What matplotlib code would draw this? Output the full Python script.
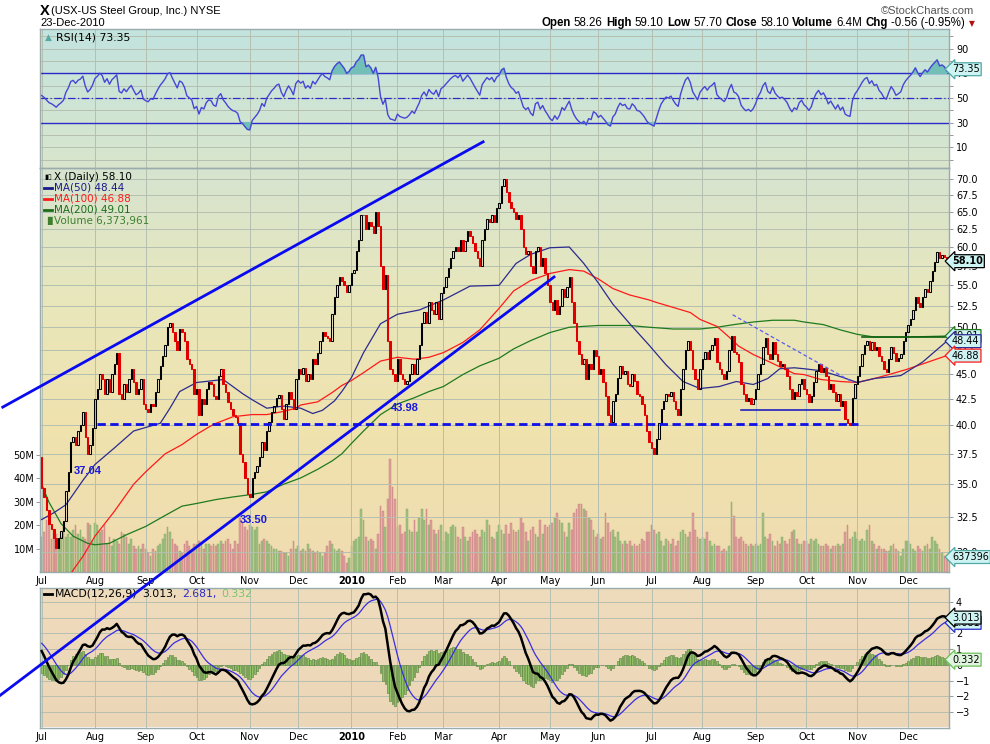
import numpy as np
import pandas as pd
import matplotlib
matplotlib.use('Agg')
import matplotlib.pyplot as plt
from matplotlib.lines import Line2D
from matplotlib.colors import to_rgb
from matplotlib.transforms import blended_transform_factory

plt.rcParams['font.family'] = ['DejaVu Sans']

W, H = 990, 744

# ---------------- data ----------------
holidays = ['2009-07-03', '2009-09-07', '2009-11-26', '2009-12-25', '2010-01-01', '2010-01-18',
            '2010-02-15', '2010-04-02', '2010-05-31', '2010-07-05', '2010-09-06', '2010-11-25']

first_open = 37.2
closes_2009 = [
    34.7, 34.0, 33.0, 32.0, 31.6, 31.0, 30.3, 31.0, 31.5, 32.2, 34.5, 36.0, 38.5, 39.0, 38.3, 39.5, 40.0, 41.2, 39.0, 37.5, 38.3, 39.8,
    42.5, 43.5, 45.0, 44.5, 43.0, 44.5, 43.2, 45.0, 46.0, 47.2, 43.0, 42.5, 44.0, 43.2, 44.5, 45.5, 44.2, 43.0, 43.5, 44.5, 42.0,
    41.5, 41.2, 42.0, 41.8, 43.2, 44.5, 45.8, 46.8, 48.0, 50.0, 50.5, 49.5, 48.5, 47.5, 49.8, 49.5, 48.5, 46.5, 46.0, 45.5, 43.0,
    43.5, 41.0, 42.5, 42.0, 43.5, 44.2, 44.0, 42.8, 42.5, 44.8, 45.5, 44.0, 43.2, 42.2, 41.5, 41.0, 40.8, 40.2, 37.5, 36.8, 35.5, 34.2,
    34.0, 35.5, 36.0, 36.5, 37.2, 38.5, 37.8, 39.5, 40.3, 41.2, 41.8, 42.6, 42.9, 41.5, 40.6, 42.0, 43.2, 42.5, 41.5, 44.5,
    45.5, 45.0, 45.6, 44.3, 45.0, 44.5, 46.5, 46.0, 47.2, 48.5, 49.5, 49.0, 48.8, 48.5, 51.5, 53.5, 55.0, 56.0, 55.5, 55.0, 54.2, 55.0,
]
closes_2010 = [
    56.5, 57.0, 59.5, 61.0, 64.5, 64.5, 62.5, 63.5, 63.0, 62.0, 65.0, 63.0, 57.5, 54.5, 56.3, 48.5, 45.5, 45.0, 44.3,
    46.5, 45.0, 44.5, 44.0, 44.3, 45.0, 46.0, 45.0, 46.5, 48.0, 50.5, 51.8, 50.5, 53.0, 52.0, 51.5, 53.0, 51.0, 54.0,
    54.8, 56.0, 57.2, 58.5, 59.5, 60.0, 59.5, 61.0, 59.5, 60.8, 62.2, 61.5, 60.5, 59.5, 58.5, 57.5, 61.0, 62.5, 64.0, 63.5, 64.5, 63.5, 65.5,
    66.3, 69.0, 70.0, 68.0, 66.5, 65.5, 65.0, 64.0, 64.5, 62.5, 60.0, 59.0, 59.5, 57.5, 56.5, 59.5, 60.0, 57.5, 58.5, 56.5, 55.0,
    53.0, 52.0, 53.2, 51.5, 52.5, 54.5, 53.5, 54.8, 56.0, 53.0, 50.5, 48.5, 47.0, 46.0, 46.5, 44.5, 46.0, 45.5, 47.5, 46.8,
    45.0, 45.5, 44.2, 42.8, 41.0, 40.3, 42.3, 43.0, 44.6, 45.8, 45.0, 45.3, 44.0, 43.8, 45.0, 44.3, 43.0, 42.8, 42.0, 41.0, 39.5, 38.5,
    38.0, 37.5, 38.8, 40.2, 41.5, 42.3, 43.0, 42.8, 43.2, 42.3, 41.5, 41.0, 43.5, 45.5, 47.5, 48.5, 47.5, 45.5, 44.5, 43.5, 45.5,
    46.5, 47.3, 46.5, 47.5, 48.0, 48.8, 46.2, 45.5, 45.0, 44.5, 45.3, 47.5, 49.0, 47.3, 47.0, 46.2, 44.0, 43.0, 42.3, 42.6, 42.0, 42.5,
    43.5, 45.0, 46.0, 47.8, 48.8, 47.0, 46.5, 48.3, 47.0, 46.3, 45.8, 46.0, 45.5, 44.8, 43.5, 42.5, 43.2, 42.8, 44.0, 44.5, 43.5,
    43.0, 42.2, 42.8, 44.2, 45.3, 46.0, 45.2, 45.6, 44.8, 43.5, 44.0, 43.2, 42.3, 43.0, 41.8, 42.3, 40.6, 40.2, 40.0, 42.6, 44.0,
    44.8, 45.8, 47.0, 48.0, 48.5, 47.5, 48.3, 47.5, 47.8, 46.8, 46.3, 45.5, 45.2, 46.5, 47.8, 47.2, 46.3, 46.6, 47.0, 48.5, 49.5,
    50.3, 51.0, 52.0, 53.5, 52.8, 52.3, 53.5, 54.5, 54.2, 55.5, 56.8, 58.0, 59.3, 58.5, 58.9, 58.66, 58.10,
]

# volume, millions of shares
volume_2009 = [
    15, 17, 22, 20, 14, 18, 16, 13, 15, 19, 15, 16, 15, 18, 20, 16, 18, 15, 14, 21, 20, 13,
    21, 20, 17, 18, 20, 12, 15, 11, 14, 13, 12, 17, 16, 15, 12, 14, 11, 10, 11, 10, 12,
    10, 8, 7, 10, 9, 11, 12, 14, 16, 19, 17, 14, 12, 11, 9, 8, 12, 13, 11, 10, 12,
    12, 13, 12, 10, 12, 12, 11, 12, 11, 12, 13, 12, 13, 14, 12, 10, 13, 12, 23, 21, 19, 18,
    20, 19, 18, 19, 12, 13, 14, 13, 12, 11, 10, 10, 9, 9, 8, 8, 7, 10, 13, 10,
    11, 9, 10, 9, 12, 10, 9, 8, 9, 8, 7, 8, 11, 13, 12, 10, 9, 10, 9, 7, 4, 6,
]
volume_2010 = [
    11, 13, 14, 15, 27, 22, 15, 13, 14, 13, 10, 16, 28, 26, 19, 31, 48, 36, 31,
    19, 20, 16, 17, 27, 18, 17, 22, 17, 23, 27, 22, 27, 20, 22, 18, 16, 18, 20,
    13, 17, 16, 19, 20, 19, 15, 14, 19, 15, 13, 15, 17, 18, 16, 15, 18, 17, 22, 20, 15, 14, 17,
    20, 18, 16, 20, 16, 21, 18, 17, 18, 23, 21, 17, 13, 18, 19, 16, 15, 22, 16, 20, 19,
    20, 21, 23, 25, 22, 21, 17, 15, 21, 18, 25, 27, 29, 29, 27, 26, 23, 22, 18, 15,
    16, 14, 15, 25, 21, 17, 18, 15, 17, 13, 12, 13, 12, 13, 11, 12, 11, 12, 14, 13, 17, 17,
    20, 18, 16, 17, 13, 11, 14, 13, 12, 14, 11, 13, 17, 18, 16, 15, 17, 25, 18, 15, 14,
    15, 14, 17, 13, 11, 12, 11, 11, 9, 10, 9, 11, 30, 24, 15, 14, 15, 13, 12, 11, 12, 11,
    12, 11, 12, 25, 15, 14, 16, 13, 11, 13, 12, 15, 13, 12, 14, 17, 18, 14, 12, 12, 13,
    13, 12, 14, 13, 14, 12, 11, 11, 12, 11, 10, 11, 11, 12, 11, 12, 17, 20, 14, 15, 17,
    14, 13, 14, 13, 18, 20, 13, 12, 10, 11, 10, 10, 9, 9, 11, 12, 10, 9, 7, 10, 13,
    13, 12, 10, 9, 11, 10, 9, 11, 12, 10, 15, 13, 12, 10, 8, 7, 6.37,
]

# moving averages read at sample days (trading-day number from 1 Jul 2009)
ma50_day = [0, 5, 10, 17, 22, 30, 38, 49, 53, 57, 64, 75, 83, 87, 93, 100, 107, 112, 116, 121, 124, 128, 133, 140,
            147, 156, 166, 177, 189, 196, 202, 210, 218, 224, 230, 236, 243, 251, 258, 265, 272, 280, 287, 294,
            300, 305, 311, 315, 322, 330, 337, 344, 355, 364, 374]
ma50_val = [32.3, 32.8, 33.4, 35.3, 36.6, 38.0, 39.5, 40.2, 41.6, 43.2, 44.1, 44.4, 43.0, 42.4, 41.6, 41.8, 41.6, 41.1,
            41.4, 42.3, 43.2, 44.6, 47.2, 50.4, 51.5, 52.0, 53.2, 54.9, 55.0, 57.8, 59.0, 59.9, 60.0, 57.8, 55.3, 52.7,
            50.4, 48.0, 45.9, 44.2, 43.5, 43.7, 44.2, 43.9, 44.5, 45.5, 45.6, 45.5, 45.3, 44.7, 44.1, 44.5, 44.8, 46.2, 48.44]
ma100_day = [0, 6, 13, 17, 22, 30, 38, 43, 51, 58, 64, 71, 79, 87, 93, 100, 105, 107, 114, 120, 124, 128, 133, 140,
             147, 154, 160, 166, 174, 181, 189, 195, 202, 210, 218, 224, 230, 236, 243, 251, 254, 261, 268, 272,
             279, 284, 288, 294, 300, 305, 311, 315, 322, 330, 337, 344, 350, 357, 364, 374]
ma100_val = [25.6, 27.0, 28.8, 29.7, 31.1, 32.9, 35.0, 36.0, 37.5, 38.3, 39.2, 40.1, 40.8, 41.0, 41.0, 41.3, 41.6, 41.9,
             42.2, 43.1, 43.8, 44.3, 45.1, 46.3, 46.7, 46.5, 46.7, 47.2, 48.3, 49.7, 52.2, 54.3, 55.6, 56.5, 57.0, 56.8,
             55.8, 54.6, 53.8, 53.2, 52.9, 52.3, 51.7, 50.9, 50.1, 48.9, 47.9, 47.0, 46.3, 45.7, 45.0, 44.9, 44.4, 44.2,
             44.1, 44.5, 44.9, 45.4, 46.0, 46.88]
ma200_day = [0, 3, 8, 13, 19, 22, 28, 35, 43, 51, 58, 64, 72, 79, 87, 93, 100, 107, 114, 120, 124, 128, 133, 140,
             147, 154, 160, 166, 174, 181, 189, 195, 202, 210, 218, 224, 230, 243, 251, 261, 272, 279, 286, 294,
             302, 311, 315, 323, 330, 337, 344, 357, 374]
ma200_val = [35.0, 33.6, 32.0, 31.1, 30.6, 30.5, 30.6, 31.2, 31.8, 32.6, 33.3, 33.5, 33.8, 34.0, 34.2, 34.4, 35.0, 35.5,
             36.2, 36.9, 37.5, 38.4, 39.5, 41.0, 42.0, 42.6, 43.2, 43.7, 44.9, 45.8, 46.6, 47.6, 48.5, 49.4, 50.0, 50.1,
             50.2, 50.2, 50.0, 49.8, 49.8, 50.0, 50.3, 50.6, 50.8, 50.8, 50.6, 50.3, 49.7, 49.2, 48.9, 48.9, 49.01]

# indicator state just before the first day (estimated from the chart's left edge)
rsi_seed_gain, rsi_seed_loss = 1.02, 0.75
ema12_seed, ema26_seed, signal_seed = 37.6, 36.4, 1.5

# hand-drawn annotations: (day, price) end points
upper_trend = [(-16.1, 41.7), (182.4, 76.2)]
lower_trend = [(-17.2, 21.66), (211.7, 56.05)]
support_dashed = [(22.7, 40.1), (337.5, 40.1)]
falling_dashed = [(285.5, 51.44), (335.4, 44.09)]
box_low = [(288.8, 41.4), (329.9, 41.4)]
box_high = [(338.8, 48.93), (373.3, 48.93)]
low_labels = [('37.04', 19.1, 36.1), ('33.50', 87.5, 32.3), ('43.98', 150.1, 41.6)]

last = dict(rsi=73.35, close=58.10, ma50=48.44, ma100=46.88, ma200=49.01, vol=6.373961,
            macd=3.013, signal=2.681, hist=0.332)

# ---------------- derived series ----------------
days = pd.bdate_range('2009-07-01', '2010-12-23')
days = days[~days.isin(pd.to_datetime(holidays))]
closes = np.array(closes_2009 + closes_2010)
volume = np.array(volume_2009 + volume_2010, dtype=float)
assert len(days) == len(closes) == len(volume)
n = len(closes)
x = np.arange(n)
opens = np.r_[first_open, closes[:-1]]
up = closes >= opens

# RSI(14), Wilder smoothing
g_avg, l_avg = rsi_seed_gain, rsi_seed_loss
rsi = np.empty(n)
for k in range(n):
    d = closes[k] - opens[k]
    g_avg = (g_avg * 13 + max(d, 0)) / 14
    l_avg = (l_avg * 13 + max(-d, 0)) / 14
    rsi[k] = 100 - 100 / (1 + g_avg / l_avg)

# MACD(12,26,9)
e12, e26, sig = ema12_seed, ema26_seed, signal_seed
macd = np.empty(n)
signal = np.empty(n)
for k in range(n):
    e12 += (closes[k] - e12) * 2 / 13
    e26 += (closes[k] - e26) * 2 / 27
    macd[k] = e12 - e26
    sig += (macd[k] - sig) * 2 / 10
    signal[k] = sig
hist = macd - signal

month_idx = [0] + [k for k in range(1, n) if days[k].month != days[k - 1].month]
month_lab = ['2010' if days[k].month == 1 else days[k].strftime('%b') for k in month_idx]

# ---------------- figure ----------------
fig = plt.figure(figsize=(W / 100, H / 100), dpi=100)
fig.patch.set_facecolor('white')


def rect(top, bottom, left=40, right=949):
    return [left / W, 1 - bottom / H, (right - left) / W, (bottom - top) / H]


def gradient(ax, stops):
    cols = np.array([to_rgb(c) for c in stops])
    t = np.linspace(0, 1, 200)
    src = np.linspace(0, 1, len(stops))
    img = np.stack([np.interp(t, src, cols[:, j]) for j in range(3)], axis=1)[:, None, :]
    ax.imshow(img, extent=[0, 1, 0, 1], transform=ax.transAxes, aspect='auto', zorder=-10,
              interpolation='bilinear')


grid_kw = dict(color='#b5bfb0', lw=0.7, zorder=0)
spine_col = '#9aabab'
XLIM = (-0.7, 374.9)


def style(ax):
    ax.set_xlim(*XLIM)
    for s in ax.spines.values():
        s.set_color(spine_col)
        s.set_linewidth(1.0)
    for m in month_idx:
        ax.axvline(m, **grid_kw)
    ax.tick_params(axis='x', length=0, labelsize=7, pad=3)
    ax.tick_params(axis='y', which='both', right=True, left=False, labelright=True, labelleft=False,
                   labelsize=7, length=3, width=0.6, color='#888888', pad=2)


def set_month_ticks(ax):
    ax.set_xticks(month_idx)
    ax.set_xticklabels(month_lab)
    for t in ax.get_xticklabels():
        if t.get_text() == '2010':
            t.set_fontweight('bold')


def tag(ax, yval, text, edge, transform=None, bold=False, face='#cdf3f3'):
    tr = transform if transform is not None else blended_transform_factory(ax.transAxes, ax.transData)
    ax.text(1.0 + 3 / 909, yval, text, transform=tr, ha='left', va='center', fontsize=7,
            fontweight='bold' if bold else 'normal', zorder=20, clip_on=False,
            bbox=dict(boxstyle='larrow,pad=0.15', fc=face, ec=edge, lw=0.9))


# ---- RSI panel ----
ax_r = fig.add_axes(rect(29, 168))
gradient(ax_r, ['#c2e3df', '#d9e6cc'])
style(ax_r)
ax_r.set_ylim(-6.8, 106)
ax_r.set_xticks([])
ax_r.set_yticks([10, 30, 50, 70, 90])
ax_r.set_yticks([0, 20, 40, 60, 80, 100], minor=True)
for v in range(0, 101, 10):
    ax_r.axhline(v, **grid_kw)
ax_r.axhline(70, color='#2a2ac8', lw=1.0, zorder=2)
ax_r.axhline(30, color='#2a2ac8', lw=1.0, zorder=2)
ax_r.axhline(50, color='#2a2ac8', lw=0.9, ls=(0, (6, 2, 1, 2)), zorder=2)
ax_r.fill_between(x, rsi, 70, where=rsi > 70, interpolate=True, color='#72bfb8', zorder=2)
ax_r.fill_between(x, rsi, 30, where=rsi < 30, interpolate=True, color='#72bfb8', zorder=2)
ax_r.plot(x, rsi, color='#4646d6', lw=1.0, zorder=3)
tag(ax_r, last['rsi'], '%.2f' % last['rsi'], '#4fa9a5')
ax_r.text(0.005, 0.94, '\u25b2', transform=ax_r.transAxes, color='#5aa9a5', fontsize=6.5, va='center')
ax_r.text(16 / 909, 0.94, 'RSI(14) %.2f' % last['rsi'], transform=ax_r.transAxes, fontsize=7.8,
          va='center', ha='left')

# ---- price panel with volume underneath ----
ax_p = fig.add_axes(rect(168, 572))
ax_v = ax_p.twinx()
ax_v.set_zorder(ax_p.get_zorder() - 1)
ax_p.patch.set_visible(False)
gradient(ax_v, ['#d6e4d0', '#e9e7bb', '#f0e2ad', '#efdcb2'])

ax_p.set_yscale('log')
ax_p.set_ylim(28.67, 71.8)
style(ax_p)
price_ticks = np.arange(30, 70.01, 2.5)
ax_p.yaxis.set_major_locator(plt.FixedLocator(price_ticks))
ax_p.yaxis.set_minor_locator(plt.NullLocator())
ax_p.yaxis.set_major_formatter(plt.FuncFormatter(lambda v, p: '%.1f' % v))
for v in price_ticks:
    ax_p.axhline(v, **grid_kw)
set_month_ticks(ax_p)

ax_v.set_xlim(*XLIM)
ax_v.set_ylim(0, 172)
ax_v.yaxis.tick_left()
ax_v.set_yticks([10, 20, 30, 40, 50])
ax_v.set_yticklabels(['10M', '20M', '30M', '40M', '50M'])
ax_v.tick_params(axis='y', labelsize=7, length=3, width=0.6, color='#888888', pad=1)
for s in ax_v.spines.values():
    s.set_visible(False)
vol_face = np.where(up, '#a3c285', '#dca09e')
vol_edge = np.where(up, '#7fa463', '#c97a78')
ax_v.bar(x, volume, width=0.72, color=vol_face, edgecolor=vol_edge, linewidth=0.3, zorder=1)

# moving averages
ax_p.plot(ma200_day, ma200_val, color='#1f7a1f', lw=0.9, zorder=3)
ax_p.plot(ma100_day, ma100_val, color='#ff1a1a', lw=0.9, zorder=3)
ax_p.plot(ma50_day, ma50_val, color='#2b2b8f', lw=0.9, zorder=3)

# candles
body_lo = np.minimum(opens, closes)
body_h = np.maximum(np.abs(closes - opens), 0.08)
ax_p.bar(x[up], body_h[up], bottom=body_lo[up], width=0.6, facecolor='none', edgecolor='black',
         linewidth=0.75, zorder=5)
ax_p.bar(x[~up], body_h[~up], bottom=body_lo[~up], width=0.6, color='#e00000', edgecolor='#e00000',
         linewidth=0.75, zorder=5)

# chartist annotations
(xa, ya), (xb, yb) = support_dashed
ax_p.plot([xa, xb], [ya, yb], color='#1010e8', lw=2.0, ls=(0, (3, 1.6)), zorder=6)
(xa, ya), (xb, yb) = falling_dashed
ax_p.plot([xa, xb], [ya, yb], color='#5a5af0', lw=0.9, ls=(0, (3, 2)), zorder=6)
(xa, ya), (xb, yb) = box_low
ax_p.plot([xa, xb], [ya, yb], color='#1010c0', lw=1.1, zorder=6)
(xa, ya), (xb, yb) = box_high
ax_p.plot([xa, xb], [ya, yb], color='#106010', lw=1.2, zorder=6)
for txt, lx, ly in low_labels:
    ax_p.text(lx, ly, txt, color='#1818e0', fontsize=8, fontweight='bold', family='Liberation Sans',
              ha='center', va='center', zorder=7)
for pts in (upper_trend, lower_trend):
    (xa, ya), (xb, yb) = pts
    fig.add_artist(Line2D([xa, xb], [ya, yb], transform=ax_p.transData, color='#0a0af0', lw=2.0,
                          clip_on=False, zorder=5))

# right-hand value tags
tag(ax_p, last['close'], '%.2f' % last['close'], 'black', bold=True)
tag(ax_p, last['ma200'], '%.2f' % last['ma200'], '#1f7a1f')
tag(ax_p, last['ma50'], '%.2f' % last['ma50'], '#2b2b8f')
tag(ax_p, last['ma100'], '%.2f' % last['ma100'], '#ff1a1a')
tag(ax_p, last['vol'], '%d' % round(last['vol'] * 1e5), '#4fa9a5',
    transform=blended_transform_factory(ax_p.transAxes, ax_v.transData))

# legend block
leg = [('X (Daily) %.2f' % last['close'], 'black'),
       ('MA(50) %.2f' % last['ma50'], '#1a1a8a'),
       ('MA(100) %.2f' % last['ma100'], '#ff1a1a'),
       ('MA(200) %.2f' % last['ma200'], '#1a6e1a'),
       ('Volume {:,}'.format(int(round(last['vol'] * 1e6))), '#3f7f2f')]
for k, (txt, col) in enumerate(leg):
    ypx = 177 + k * 10.9
    fig.text(54 / W, 1 - ypx / H, txt, color=col, fontsize=7.5, va='center', ha='left')
    if 1 <= k <= 3:
        fig.add_artist(Line2D([44 / W, 52 / W], [1 - ypx / H] * 2, color=col, lw=2.0))
fig.text(44 / W, 1 - 177 / H, '\u25ae\u25af', fontsize=5, va='center', ha='left')
fig.text(44 / W, 1 - 220.6 / H, '\u2590\u258c', fontsize=5.5, color='#3f7f2f', va='center', ha='left')

# ---- MACD panel ----
ax_m = fig.add_axes(rect(587.5, 727.5))
gradient(ax_m, ['#efdcbd', '#ecd6b8'])
style(ax_m)
ax_m.set_ylim(-3.99, 4.93)
ax_m.set_yticks(range(-3, 5))
for v in range(-3, 5):
    ax_m.axhline(v, **grid_kw)
set_month_ticks(ax_m)
ax_m.bar(x, hist, width=0.7, color='#8fc165', edgecolor='#507d36', linewidth=0.4, zorder=2)
ax_m.plot(x, signal, color='#3a2ee0', lw=0.9, zorder=3)
ax_m.plot(x, macd, color='black', lw=1.8, zorder=4)
tag(ax_m, last['signal'], '%.3f' % last['signal'], '#2a2ac8')
tag(ax_m, last['macd'], '%.3f' % last['macd'], 'black')
tag(ax_m, last['hist'], '%.3f' % last['hist'], '#6cbf5a', face='#dff5df')

renderer = fig.canvas.get_renderer()


def pieces(x0, ypx, parts, gap=0.0, **kw):
    xp = x0
    for s, col, wt in parts:
        t = fig.text(xp / W, 1 - ypx / H, s, color=col, fontweight=wt, va='center', ha='left', **kw)
        xp += t.get_window_extent(renderer).width + gap
    return xp


fig.add_artist(Line2D([44 / W, 52 / W], [1 - 594 / H] * 2, color='black', lw=2.0))
pieces(55, 594, [('MACD(12,26,9)', 'black', 'normal'), ('3.013,', 'black', 'normal'),
                 ('2.681,', '#2a2ac8', 'normal'), ('0.332', '#7cc56a', 'normal')], gap=5, fontsize=7.8)

# ---- header ----
fig.text(40 / W, 1 - 11 / H, 'X', fontsize=10.5, fontweight='bold', va='center', family='Liberation Sans')
fig.text(51 / W, 1 - 11 / H, '(USX-US Steel Group, Inc.) NYSE', fontsize=8, va='center',
         family='Liberation Sans')
fig.text(40 / W, 1 - 23 / H, '23-Dec-2010', fontsize=8, va='center', family='Liberation Sans')
fig.text(974 / W, 1 - 11 / H, '\u00a9StockCharts.com', fontsize=8, va='center', ha='right',
         color='#555555', family='Liberation Sans')
hdr = [('Open', 'black', 'bold'), ('58.26', 'black', 'normal'),
       ('High', 'black', 'bold'), ('59.10', 'black', 'normal'),
       ('Low', 'black', 'bold'), ('57.70', 'black', 'normal'),
       ('Close', 'black', 'bold'), ('58.10', 'black', 'normal'),
       ('Volume', 'black', 'bold'), ('6.4M', 'black', 'normal'),
       ('Chg', 'black', 'bold'), ('-0.56 (-0.95%)', 'black', 'normal')]
xe = pieces(541, 23, hdr, gap=3.3, fontsize=8.3, family='Liberation Sans')
fig.text((xe + 1) / W, 1 - 23.5 / H, '\u25bc', fontsize=5.5, color='#b01010', va='center', ha='left')

fig.savefig('out.png', dpi=100, facecolor='white')
